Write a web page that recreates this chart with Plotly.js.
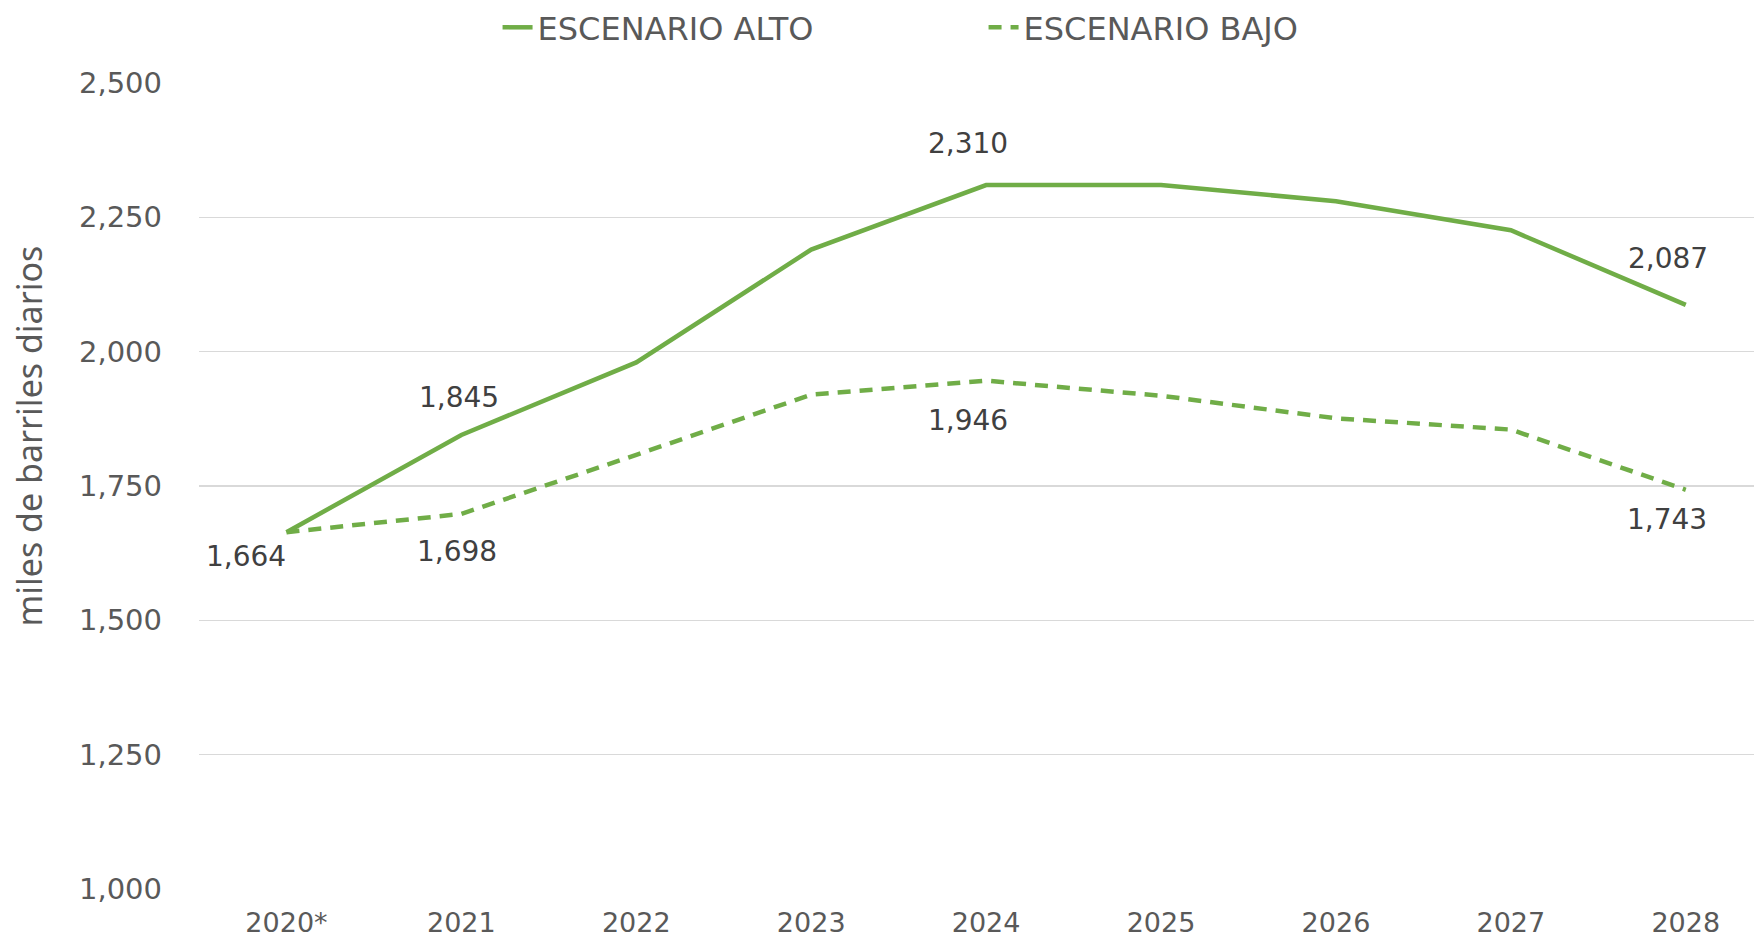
<!DOCTYPE html>
<html>
<head>
<meta charset="utf-8">
<script src="https://cdn.plot.ly/plotly-3.0.1.min.js"></script>
<style>html,body{margin:0;padding:0;background:#fff;}#chart{width:1754px;height:945px;}</style>
</head>
<body>
<div id="chart"></div>
<script>
const years = ["2020*", "2021", "2022", "2023", "2024", "2025", "2026", "2027", "2028"];
const altoName = "ESCENARIO ALTO";
const bajoName = "ESCENARIO BAJO";
const alto = [1664, 1845, 1980, 2190, 2310, 2310, 2280, 2226, 2087];
const bajo = [1664, 1698, 1808, 1920, 1946, 1918, 1876, 1855, 1743];
const yTicks = [1000, 1250, 1500, 1750, 2000, 2250, 2500];
const yTitle = "miles de barriles diarios";

// which points carry a data label, and where (offset styles)
const altoLabelIdx = [0, 1, 4, 8];
const altoLabelShift = [[-40, -24], [-2, 37], [-18, 42], [-18, 46]];
const bajoLabelIdx = [1, 4, 8];
const bajoLabelShift = [[-4, -38], [-18, -40], [-19, -30]];

const green = "#70AD47";
const fmt = v => v.toLocaleString("en-US");
const fontFam = "DejaVu Sans, sans-serif";
const titleFam = "Noto Sans, sans-serif";

const annotations = [];
altoLabelIdx.forEach((i, k) => annotations.push({
  x: i, y: alto[i], xref: "x", yref: "y", text: fmt(alto[i]), showarrow: false,
  xshift: altoLabelShift[k][0], yshift: altoLabelShift[k][1],
  font: {family: fontFam, size: 28, color: "#404040"}
}));
bajoLabelIdx.forEach((i, k) => annotations.push({
  x: i, y: bajo[i], xref: "x", yref: "y", text: fmt(bajo[i]), showarrow: false,
  xshift: bajoLabelShift[k][0], yshift: bajoLabelShift[k][1],
  font: {family: fontFam, size: 28, color: "#404040"}
}));
// y axis title (placed slightly above the plot's vertical centre, as in the source)
annotations.push({
  xref: "paper", yref: "paper", x: -0.109, y: 0.562, xanchor: "center", yanchor: "middle",
  text: yTitle, textangle: -90, showarrow: false,
  font: {family: titleFam, size: 34, color: "#595959"}
});

const traces = [
  {x: years, y: alto, name: altoName, type: "scatter", mode: "lines",
   line: {color: green, width: 4.5}},
  {x: years, y: bajo, name: bajoName, type: "scatter", mode: "lines",
   line: {color: green, width: 4.5, dash: "13px,9px"}}
];

const layout = {
  width: 1754, height: 945,
  margin: {l: 199, r: 0, t: 83, b: 56},
  paper_bgcolor: "#fff", plot_bgcolor: "#fff",
  font: {family: fontFam, color: "#595959", size: 27},
  showlegend: true,
  legend: {orientation: "h", x: 0.192, xanchor: "left", y: 1, yref: "container", yanchor: "top",
           font: {size: 32, color: "#595959"}, entrywidth: 441, entrywidthmode: "pixels",
           tracegroupgap: 0, bgcolor: "rgba(0,0,0,0)"},
  xaxis: {type: "category", range: [-0.5, 8.39], showgrid: false, zeroline: false,
          showline: false, ticks: "", ticklabelstandoff: 15,
          tickfont: {size: 27, color: "#595959"}},
  yaxis: {range: [1000, 2500], tickvals: yTicks, ticktext: yTicks.map(fmt),
          showgrid: true, gridcolor: "#D9D9D9", gridwidth: 1.5, zeroline: false,
          showline: false, ticks: "", ticklabelstandoff: 36,
          tickfont: {size: 29, color: "#595959"}},
  annotations: annotations
};

Plotly.newPlot("chart", traces, layout, {displayModeBar: false, staticPlot: true});
</script>
</body>
</html>
